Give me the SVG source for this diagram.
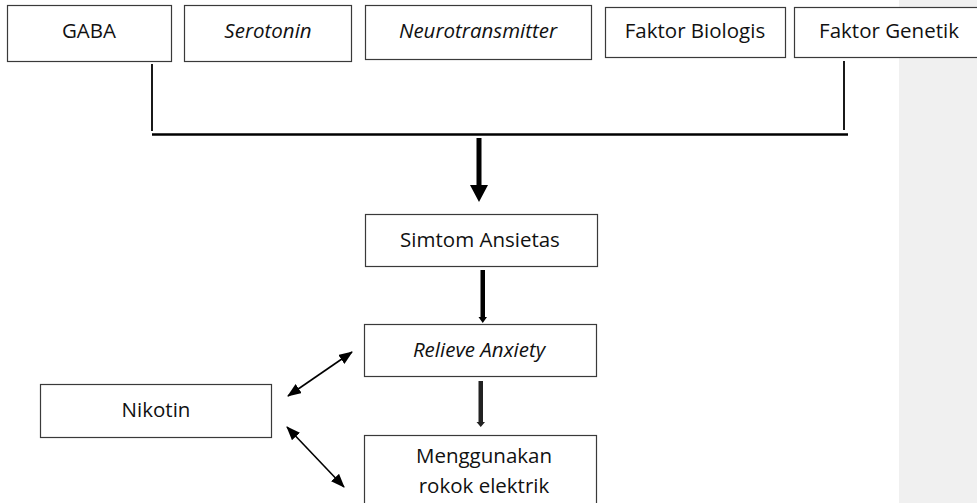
<svg xmlns="http://www.w3.org/2000/svg" width="977" height="503" viewBox="0 0 977 503">
<style>
.box{fill:#fff;stroke:#3a3a3a;stroke-width:1.2}
.t{font-family:"Open Sans","Liberation Sans",sans-serif;font-size:20.5px;fill:#111;text-anchor:middle}
.i{font-style:italic}
.ln{stroke:#000;fill:none}
.dbl{stroke:#000;stroke-width:1.6;fill:none;marker-start:url(#ah);marker-end:url(#ah)}
</style>
<defs>
<marker id="ah" viewBox="0 0 14 11" refX="13" refY="5.5" markerWidth="14" markerHeight="11" markerUnits="userSpaceOnUse" orient="auto-start-reverse">
<path d="M0,0 L14,5.5 L0,11 Z" fill="#000"/>
</marker>
</defs>
<rect x="0" y="0" width="977" height="503" fill="#fff"/>
<rect x="899" y="0" width="78" height="503" fill="#f0f0f0"/>
<g id="gaba"><rect class="box" x="7.5" y="5.5" width="164" height="56"/><text class="t" x="89" y="38">GABA</text></g>
<g id="serotonin"><rect class="box" x="184.5" y="5.5" width="167" height="56"/><text class="t i" x="268" y="38">Serotonin</text></g>
<g id="neurotransmitter"><rect class="box" x="365.5" y="5.5" width="226" height="54"/><text class="t i" x="478" y="38">Neurotransmitter</text></g>
<g id="biologis"><rect class="box" x="605.5" y="7.5" width="180" height="50"/><text class="t" x="695" y="38">Faktor Biologis</text></g>
<g id="genetik"><rect class="box" x="794.5" y="7.5" width="190" height="50"/><text class="t" x="889" y="38">Faktor Genetik</text></g>
<g id="simtom"><rect class="box" x="365.5" y="214.5" width="232" height="52"/><text class="t" x="480" y="247">Simtom Ansietas</text></g>
<g id="relieve"><rect class="box" x="364.5" y="324.5" width="232" height="52"/><text class="t i" x="479" y="357">Relieve Anxiety</text></g>
<g id="menggunakan"><rect class="box" x="364.5" y="435.5" width="232" height="80"/><text class="t" x="484" y="463">Menggunakan</text><text class="t" x="484" y="493">rokok elektrik</text></g>
<g id="nikotin"><rect class="box" x="40.5" y="384.5" width="231" height="53"/><text class="t" x="156" y="417">Nikotin</text></g>
<g id="connectors">
<line class="ln" x1="152" y1="64" x2="152" y2="131" stroke-width="1.8"/>
<line class="ln" x1="844" y1="61" x2="844" y2="130" stroke-width="1.8"/>
<line class="ln" x1="152" y1="134.5" x2="848" y2="134.5" stroke-width="2.5"/>
<path d="M476.5,138 H481.5 V185 H488 L479,202 L470,185 H476.5 Z" fill="#000"/>
<path d="M480.5,270 H485 V317 H487 L482.75,323 L478.5,317 H480.5 Z" fill="#000"/>
<path d="M478.5,381 H483 V422 H485 L480.75,427 L476.5,422 H478.5 Z" fill="#222"/>
<line class="dbl" x1="288" y1="396" x2="352" y2="352"/>
<line class="dbl" x1="287" y1="427" x2="344" y2="487"/>
</g>
</svg>
